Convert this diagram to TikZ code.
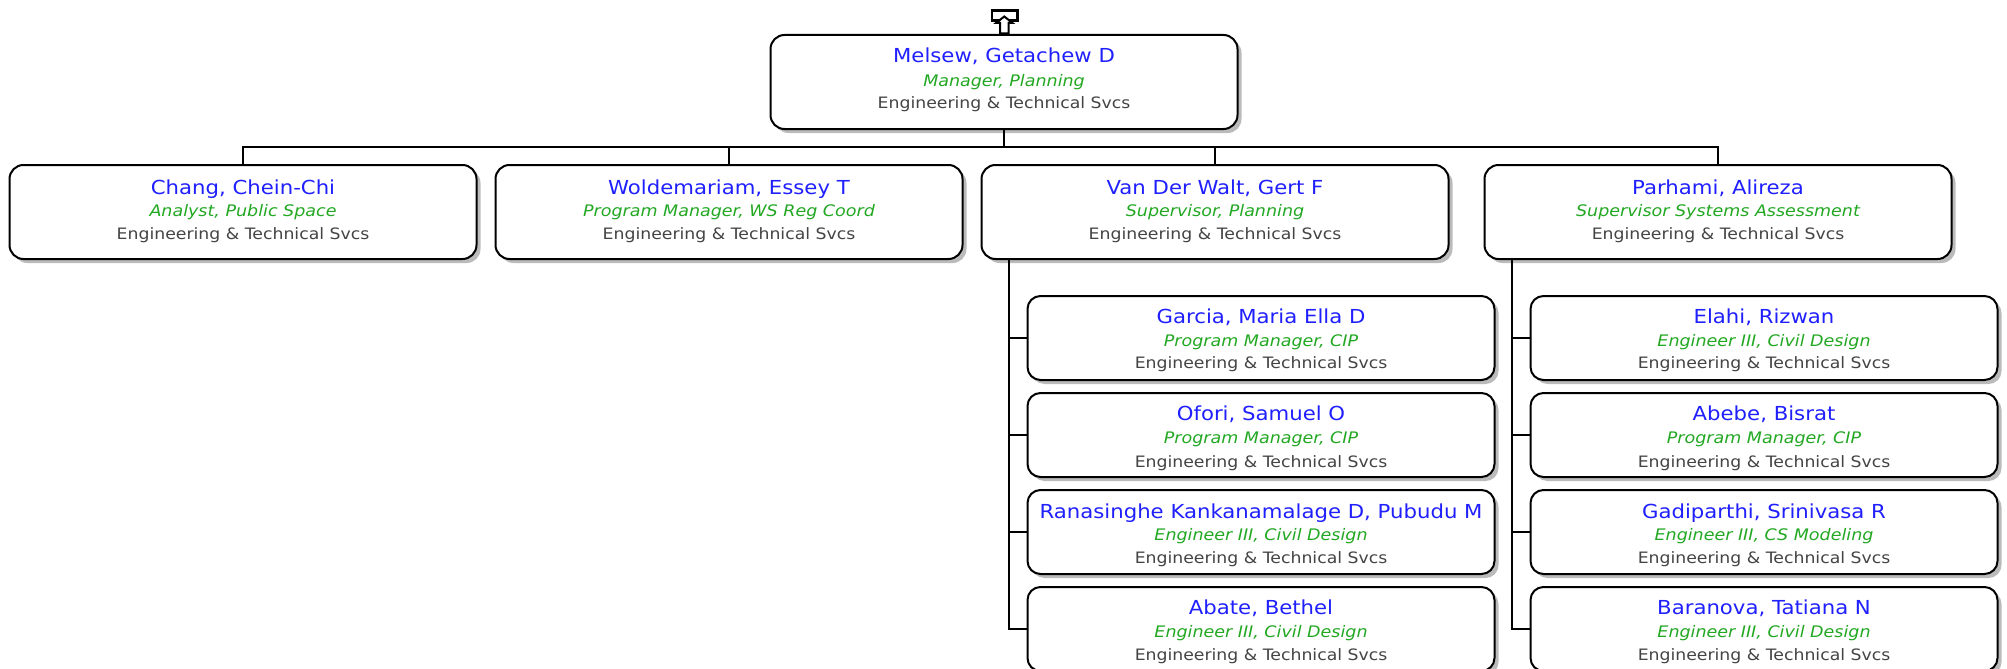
\documentclass[tikz,border=0pt]{standalone}
\usepackage{fontspec}
\setmainfont[FakeStretch=1.1]{DejaVu Sans}
\usetikzlibrary{shadows}
\definecolor{nameblue}{HTML}{2020FF}
\definecolor{rolegreen}{HTML}{22A822}
\definecolor{deptgray}{HTML}{444444}
\definecolor{shadowgray}{HTML}{BBBBBB}
% #1,#2,#3: baseline of each line above the node centre; #4 name; #5 role
\newcommand{\entry}[5]{%
  \makebox[0pt]{\raisebox{#1pt}[0pt][0pt]{\fontsize{19.3}{22.5}\selectfont\color{nameblue}#4}}%
  \makebox[0pt]{\raisebox{#2pt}[0pt][0pt]{\fontsize{15.9}{22.5}\selectfont\itshape\color{rolegreen}#5}}%
  \makebox[0pt]{\raisebox{#3pt}[0pt][0pt]{\fontsize{15.7}{22.5}\selectfont\color{deptgray}Engineering \& Technical Svcs}}}
\tikzset{
  person/.style={draw=black,line width=2pt,fill=white,rounded corners=14pt,
    minimum width=467pt,inner sep=0pt,
    general shadow={shadow xshift=4pt,shadow yshift=-4pt,fill=shadowgray,draw=none}},
  tall/.style={person,minimum height=94pt},
  short/.style={person,minimum height=84pt,rounded corners=13pt},
  wire/.style={draw=black,line width=1.6pt},
  icon/.style={draw=black,line width=2.5pt,fill=white}
}
\begin{document}
\begin{tikzpicture}[x=1pt,y=-1pt]
\useasboundingbox (0,0) rectangle (2007,669);
\clip (0,0) rectangle (2007,669);
\node[tall] (root) at (1004,82) {\entry{20}{-4}{-26.3}{Melsew, Getachew D}{Manager, Planning}};
\node[tall] (c1) at (243,212) {\entry{18}{-4}{-27}{Chang, Chein-Chi}{Analyst, Public Space}};
\node[tall] (c2) at (729,212) {\entry{18}{-4}{-27}{Woldemariam, Essey T}{Program Manager, WS Reg Coord}};
\node[tall] (c3) at (1215,212) {\entry{18}{-4}{-27}{Van Der Walt, Gert F}{Supervisor, Planning}};
\node[tall] (c4) at (1718,212) {\entry{18}{-4}{-27}{Parhami, Alireza}{Supervisor Systems Assessment}};
\node[short] (a1) at (1261,338) {\entry{15}{-8}{-30.5}{Garcia, Maria Ella D}{Program Manager, CIP}};
\node[short] (a2) at (1261,435) {\entry{15}{-8}{-32}{Ofori, Samuel O}{Program Manager, CIP}};
\node[short] (a3) at (1261,532) {\entry{13.5}{-8.5}{-31.5}{Ranasinghe Kankanamalage D, Pubudu M}{Engineer III, Civil Design}};
\node[short] (a4) at (1261,629) {\entry{15}{-8}{-31.5}{Abate, Bethel}{Engineer III, Civil Design}};
\node[short] (b1) at (1764,338) {\entry{15}{-8}{-30.5}{Elahi, Rizwan}{Engineer III, Civil Design}};
\node[short] (b2) at (1764,435) {\entry{15}{-8}{-32}{Abebe, Bisrat}{Program Manager, CIP}};
\node[short] (b3) at (1764,532) {\entry{13.5}{-8.5}{-31.5}{Gadiparthi, Srinivasa R}{Engineer III, CS Modeling}};
\node[short] (b4) at (1764,629) {\entry{15}{-8}{-31.5}{Baranova, Tatiana N}{Engineer III, Civil Design}};
% connectors
\coordinate (bus) at (1004,147);
\coordinate (sa) at (1009,259);
\coordinate (sb) at (1512,259);
\draw[wire] (root.south) -- (bus);
\draw[wire] (c1.north) |- (bus) -| (c4.north);
\draw[wire] (c2.north) -- (c2.north |- bus);
\draw[wire] (c3.north) -- (c3.north |- bus);
\draw[wire] (sa) |- (a4.west);
\draw[wire] (sa |- a1.west) -- (a1.west);
\draw[wire] (sa |- a2.west) -- (a2.west);
\draw[wire] (sa |- a3.west) -- (a3.west);
\draw[wire] (sb) |- (b4.west);
\draw[wire] (sb |- b1.west) -- (b1.west);
\draw[wire] (sb |- b2.west) -- (b2.west);
\draw[wire] (sb |- b3.west) -- (b3.west);
% up-arrow icon
\draw[icon] (992,10.5) rectangle (1017.5,20.5);
\draw[icon,line join=miter,line width=2pt] (1000,33.5) -- (1000,23) -- (996,23) -- (1004.3,16.5) -- (1012.5,23) -- (1008.5,23) -- (1008.5,33.5) -- cycle;
\end{tikzpicture}
\end{document}
